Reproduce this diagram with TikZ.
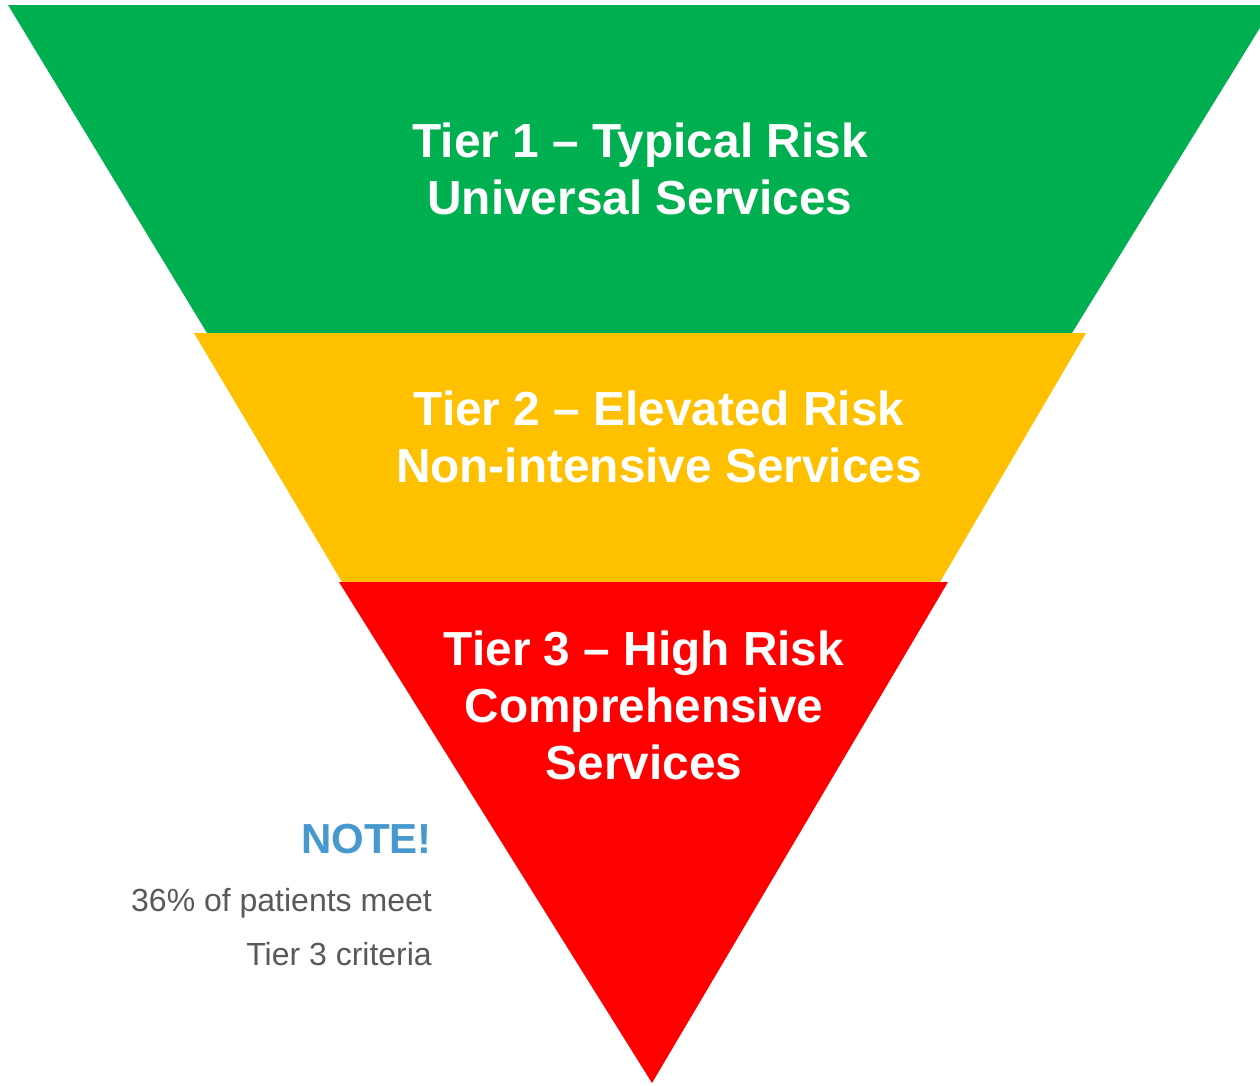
\documentclass[tikz,border=0pt]{standalone}
\usepackage{fontspec}
\setmainfont{Liberation Sans}
\definecolor{tiergreen}{RGB}{0,176,80}
\definecolor{tieryellow}{RGB}{255,192,0}
\definecolor{tierred}{RGB}{255,0,0}
\definecolor{noteblue}{RGB}{70,152,206}
\definecolor{notegrey}{RGB}{89,89,89}
\usetikzlibrary{positioning}
\tikzset{
  tierlabel/.style={text=white, font=\bfseries\fontsize{47.8}{57}\selectfont, inner sep=0pt, anchor=base},
  notehead/.style={text=noteblue, font=\bfseries\fontsize{42}{48}\selectfont, inner sep=0pt, anchor=base east},
  notebody/.style={text=notegrey, font=\fontsize{32}{36}\selectfont, inner sep=0pt, anchor=base east},
}

\begin{document}
\begin{tikzpicture}[x=1pt, y=-1pt]
  \useasboundingbox (0,0) rectangle (1260,1085);
  \clip (0,0) rectangle (1260,1085);

  % the three bands of the funnel
  \fill [tiergreen] (8,5) -- (1274,5) -- (1072,333) -- (207,333) -- cycle;
  \fill [tieryellow] (194,333) -- (1086,333) -- (940,582) -- (342,582) -- cycle;
  \fill [tierred] (339,582) -- (948,582) -- (652,1083) -- cycle;

  \begin{scope}[every node/.style={tierlabel}]
    \node (t1a) at (640,157) {Tier 1 – Typical Risk};
    \node (t1b) at (640,214) {Universal Services};
    \node (t2a) at (659,425) {Tier 2 – Elevated Risk};
    \node (t2b) at (659,482) {Non-intensive Services};
    \node (t3a) at (644,665) {Tier 3 – High Risk};
    \node (t3b) at (644,722) {Comprehensive};
    \node (t3c) at (644,779) {Services};
  \end{scope}

  \node [notehead] (note) at (432,853) {NOTE!};
  \node [notebody] (notea) at (432,911) {36\% of patients meet};
  \node [notebody] (noteb) at (432,965) {Tier 3 criteria};

\end{tikzpicture}
\end{document}
